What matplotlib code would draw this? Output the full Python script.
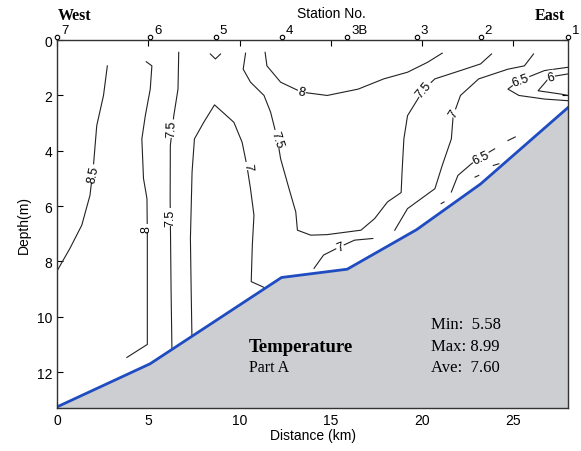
import matplotlib as mpl
mpl.use('Agg')
import matplotlib.pyplot as plt
import numpy as np

# stations along the section
station_names = ['7', '6', '5', '4', '3B', '3', '2', '1']
station_km = [0.0, 5.1, 8.7, 12.3, 15.9, 19.7, 23.2, 28.0]

# bottom profile (distance, depth)
bottom_km = [0.0, 5.1, 8.7, 12.3, 15.9, 19.7, 23.2, 28.0]
bottom_depth = [13.26, 11.7, 10.14, 8.58, 8.28, 6.85, 5.2, 2.43]

# isotherms (distance km, depth m)
c85_x = [2.76, 2.55, 2.18, 2.0, 1.81, 1.36, 0.71, 0.0]
c85_d = [0.93, 2.0, 3.09, 4.53, 5.61, 6.69, 7.53, 8.35]

c8a_x = [4.89, 5.2, 5.11, 4.84, 4.65, 4.74, 4.93, 4.95, 4.95, 3.83]
c8a_d = [0.78, 0.93, 1.77, 2.73, 3.57, 5.0, 5.73, 7.0, 11.0, 11.47]

c75a_x = [6.67, 6.63, 6.4, 6.21, 6.2, 6.25, 6.3]
c75a_d = [0.44, 1.77, 2.73, 3.81, 5.73, 9.0, 11.3]

c7a_x = [7.4, 7.35, 7.31, 7.4, 7.53, 8.04, 8.63, 9.69, 10.14, 10.4, 10.6, 10.79, 10.7, 10.64, 11.25, 11.5]
c7a_d = [11.0, 9.0, 7.17, 4.77, 3.57, 2.97, 2.34, 2.97, 3.69, 4.53, 5.37, 6.33, 7.41, 8.73, 8.91, 9.0]

c7v_x = [8.4, 8.68, 8.96]
c7v_d = [0.5, 0.68, 0.5]

c75b_x = [10.33, 10.2, 10.6, 11.34, 11.7, 12.07, 12.25, 12.71, 13.08, 13.17, 13.9, 14.8,
          16.65, 17.4, 18.1, 18.85, 18.9, 19.0, 19.2, 20.1, 20.7, 22.1, 23.2, 23.8]
c75b_d = [0.47, 1.05, 1.52, 2.0, 2.6, 3.57, 4.29, 5.37, 6.21, 6.87, 7.05, 7.03,
          6.87, 6.45, 5.85, 5.51, 4.77, 3.57, 2.73, 1.77, 1.4, 1.1, 0.86, 0.5]

c8b_x = [11.4, 11.5, 12.25, 13.4, 14.8, 16.5, 17.9, 19.2, 20.3, 21.1]
c8b_d = [0.44, 0.93, 1.52, 1.88, 2.0, 1.77, 1.4, 1.16, 0.8, 0.47]

c7b_x = [18.5, 19.2, 20.7, 21.1, 21.6, 21.7, 22.1, 23.1, 24.7, 25.6, 26.1]
c7b_d = [6.87, 6.09, 5.37, 4.53, 3.57, 2.73, 2.0, 1.4, 1.05, 0.93, 0.5]

c7c_x = [14.08, 14.6, 15.5, 16.3, 17.3]
c7c_d = [8.25, 7.77, 7.47, 7.23, 7.17]

c65a_x = [28.0, 26.7, 25.3, 24.7, 25.3, 26.7, 28.0]
c65a_d = [0.98, 1.1, 1.47, 1.77, 2.0, 2.13, 2.19]

c6_x = [28.0, 27.0, 26.35, 27.6, 28.0]
c6_d = [1.22, 1.33, 1.83, 1.95, 2.0]

c65b_x = [21.6, 21.96, 22.7, 23.2, 23.97]
c65b_d = [5.49, 4.89, 4.47, 4.23, 3.93]

# broken bits of the 6.5 isotherm near the bottom
frag_x = [[24.7, 25.1], [22.9, 23.1], [23.9, 24.2], [21.04, 21.2]]
frag_d = [[3.63, 3.5], [4.95, 4.89], [4.53, 4.47], [5.91, 5.85]]

lines = [(c85_x, c85_d), (c8a_x, c8a_d), (c75a_x, c75a_d), (c7a_x, c7a_d),
         (c7v_x, c7v_d), (c75b_x, c75b_d), (c8b_x, c8b_d), (c7b_x, c7b_d),
         (c7c_x, c7c_d), (c65a_x, c65a_d), (c6_x, c6_d), (c65b_x, c65b_d)]

# contour labels: text, distance, depth, rotation
label_txt = ['8.5', '8', '7.5', '7.5', '7', '7.5', '8', '7.5', '7', '7', '6.5', '6', '6.5']
label_x = [2.0, 4.93, 6.3, 6.2, 10.45, 12.07, 13.4, 20.1, 21.75, 15.5, 25.4, 27.05, 23.2]
label_d = [4.83, 6.8, 3.2, 6.4, 4.55, 3.57, 1.88, 1.77, 2.65, 7.47, 1.45, 1.33, 4.23]
label_rot = [78, 90, 88, 90, -85, -72, -12, 50, 58, 22, 20, 15, 25]

fig = plt.figure(figsize=(5.81, 4.52), dpi=100)
ax = fig.add_axes([0.098, 0.095, 0.88, 0.814])

for xs, ds in lines:
    ax.plot(xs, ds, color='#222222', lw=0.8, zorder=2)
for xs, ds in zip(frag_x, frag_d):
    ax.plot(xs, ds, color='#222222', lw=0.8, zorder=2)

for t, x, d, r in zip(label_txt, label_x, label_d, label_rot):
    ax.text(x, d, t, fontsize=9, family='Liberation Sans', rotation=r,
            ha='center', va='center', rotation_mode='anchor', zorder=2.5,
            bbox=dict(boxstyle='square,pad=0.05', fc='white', ec='none'))

# sea floor
bx = list(bottom_km) + [bottom_km[-1], bottom_km[0]]
bd = list(bottom_depth) + [14.0, 14.0]
ax.fill(bx, bd, color='#cdced1', zorder=3, lw=0)
ax.plot(bottom_km, bottom_depth, color='#1f4cc0', lw=2, zorder=4)

ax.set_xlim(0, 28)
ax.set_ylim(13.3, 0)
ax.set_xticks([0, 5, 10, 15, 20, 25])
ax.set_yticks([0, 2, 4, 6, 8, 10, 12])
ax.tick_params(direction='in', top=True, right=True, labelsize=10, length=4)
for lab in ax.get_xticklabels() + ax.get_yticklabels():
    lab.set_family('Liberation Sans')
for s in ax.spines.values():
    s.set_zorder(5)
    s.set_linewidth(1.0)
    s.set_color('#333333')

ax.set_xlabel('Distance (km)', fontsize=10, family='Liberation Sans', labelpad=1)
ax.set_ylabel('Depth(m)', fontsize=10, family='Liberation Sans', labelpad=4)

# stations on top axis
ax.plot(station_km, [-0.12] * len(station_km), 'o', ms=3.2, mfc='white', mec='black',
        mew=0.8, clip_on=False, zorder=6)
for name, x in zip(station_names, station_km):
    ax.text(x + 0.22, -0.14, name, fontsize=9.5, family='Liberation Sans',
            ha='left', va='bottom')

fig.text(0.57, 0.969, 'Station No.', fontsize=10, family='Liberation Sans',
         ha='center', va='center')
fig.text(0.1, 0.965, 'West', fontsize=11.5, family='Liberation Serif', weight='bold',
         ha='left', va='center')
fig.text(0.972, 0.965, 'East', fontsize=11.5, family='Liberation Serif', weight='bold',
         ha='right', va='center')

ax.text(10.5, 11.06, 'Temperature', fontsize=13.5, family='Liberation Serif',
        weight='bold', va='center', zorder=7)
ax.text(10.5, 11.8, 'Part A', fontsize=11.5, family='Liberation Serif',
        va='center', zorder=7)
ax.text(20.5, 10.27, 'Min:  5.58', fontsize=12, family='Liberation Serif',
        va='center', zorder=7)
ax.text(20.5, 11.06, 'Max: 8.99', fontsize=12, family='Liberation Serif',
        va='center', zorder=7)
ax.text(20.5, 11.82, 'Ave:  7.60', fontsize=12, family='Liberation Serif',
        va='center', zorder=7)

fig.savefig('out.png', dpi=100)
